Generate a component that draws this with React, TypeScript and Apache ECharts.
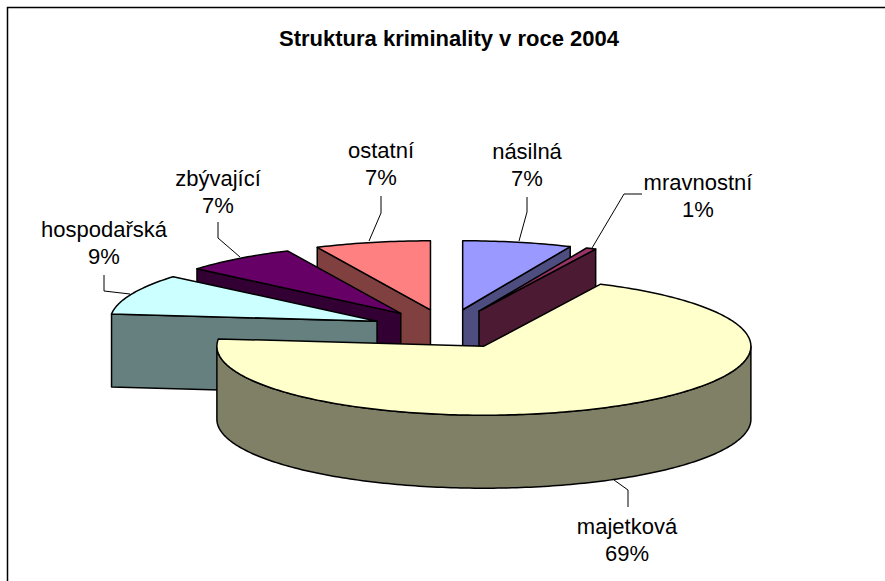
import React, { useEffect, useRef } from "react";
import * as echarts from "echarts";

const categories = ["násilná", "mravnostní", "majetková", "hospodařská", "zbývající", "ostatní"];
const shares = [6.6, 0.6, 69.49, 9.49, 6.85, 6.97];
const topColors = ["#9999ff", "#993366", "#ffffcc", "#ccffff", "#660066", "#ff8080"];
const sideColors = ["#4d4d80", "#4d1a33", "#808066", "#668080", "#330033", "#804040"];
const paintOrder = [0, 5, 4, 3, 1, 2];
const labelCentres = [[527, 165], [698, 196], [627, 540], [104, 243], [218, 192], [381, 164]];
const leaders = [
  [[527, 197], [527, 212], [519, 241]],
  [[642, 194], [624, 194], [592, 248]],
  [[628, 507], [628, 490], [614, 480]],
  [[104, 275], [104, 291], [130, 294]],
  [[218, 222], [218, 238], [240, 257]],
  [[381, 196], [381, 213], [369, 241]],
];

const CENTRE = [447, 329];
const RX = 267;
const RY = 69;
const DEPTH = 73;
const EXPLODE = 0.285;
const FONT = "Liberation Sans";

const total = shares.reduce((a, b) => a + b, 0);
const rad = (d: number) => (d * Math.PI) / 180;

function renderSlice(params: any, api: any) {
  const i = params.dataIndex;
  const share = api.value(0) as number;
  const before = shares.slice(0, i).reduce((a, b) => a + b, 0);
  const a0 = (before / total) * 360;
  const a1 = a0 + (share / total) * 360;
  const mid = rad((a0 + a1) / 2);
  const cx = CENTRE[0] + EXPLODE * RX * Math.sin(mid);
  const cy = CENTRE[1] - EXPLODE * RY * Math.cos(mid);
  const pt = (deg: number, dy = 0) => [cx + RX * Math.sin(rad(deg)), cy - RY * Math.cos(rad(deg)) + dy];
  const arc = (from: number, to: number, dy = 0) => {
    const n = Math.max(2, Math.ceil(Math.abs(to - from)));
    const out: number[][] = [];
    for (let k = 0; k <= n; k++) out.push(pt(from + ((to - from) * k) / n, dy));
    return out;
  };
  const base = (paintOrder.indexOf(i) + 1) * 10;
  const stroke = { stroke: "#000", lineWidth: 1.5, lineJoin: "round" };
  const children: any[] = [];
  const face = (points: number[][], fill: string, z: number) =>
    children.push({ type: "polygon", z2: base + z, shape: { points }, style: { fill, ...stroke } });
  const cut = (deg: number) => {
    const p = pt(deg);
    face([[cx, cy], p, [p[0], p[1] + DEPTH], [cx, cy + DEPTH]], sideColors[i], 1);
  };
  if (Math.sin(rad(a0)) < -1e-6) cut(a0);
  if (Math.sin(rad(a1)) > 1e-6) cut(a1);
  const r0 = Math.max(a0, 90);
  const r1 = Math.min(a1, 270);
  if (r1 > r0) {
    face([...arc(r0, r1), ...arc(r1, r0, DEPTH)], sideColors[i], 2);
  }
  face([[cx, cy], ...arc(a0, a1)], topColors[i], 3);
  children.push({
    type: "polyline",
    z2: 200,
    shape: { points: leaders[i] },
    style: { fill: "none", stroke: "#000", lineWidth: 1 },
  });
  children.push({
    type: "text",
    z2: 201,
    style: {
      x: labelCentres[i][0],
      y: labelCentres[i][1],
      text: `${categories[i]}\n${Math.round((share / total) * 100)}%`,
      textAlign: "center",
      textVerticalAlign: "middle",
      fontFamily: FONT,
      fontSize: 22,
      lineHeight: 27,
      fill: "#000",
    },
  });
  return { type: "group", children };
}

export default function App() {
  const ref = useRef<HTMLDivElement>(null);
  useEffect(() => {
    const chart = echarts.init(ref.current!, undefined, { renderer: "svg" });
    chart.setOption({
      animation: false,
      backgroundColor: "#fff",
      title: {
        text: "Struktura kriminality v roce 2004",
        left: 279,
        top: 27,
        padding: 0,
        textStyle: { fontFamily: FONT, fontSize: 22, fontWeight: "bold", color: "#000" },
      },
      graphic: [
        {
          type: "polyline",
          shape: { points: [[7.5, 581], [7.5, 7.5], [885, 7.5]] },
          style: { fill: "none", stroke: "#000", lineWidth: 1.5 },
        },
      ],
      series: [
        {
          type: "custom",
          coordinateSystem: "none",
          silent: true,
          renderItem: renderSlice,
          data: shares.map((v, i) => ({ name: categories[i], value: [v] })),
        },
      ],
    });
    return () => chart.dispose();
  }, []);
  return <div ref={ref} style={{ position: "absolute", left: 0, top: 0, width: 885, height: 581 }} />;
}
